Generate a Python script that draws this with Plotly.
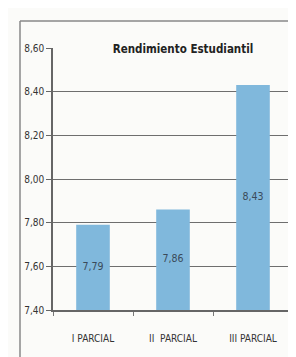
import plotly.graph_objects as go

categories = ["I PARCIAL", "II  PARCIAL", "III PARCIAL"]
values = [7.79, 7.86, 8.43]
value_labels = ["7,79", "7,86", "8,43"]
title_text = "Rendimiento Estudiantil"
axis_min = 7.4
axis_max = 8.6

font_family = "DejaVu Sans Condensed, Liberation Sans Narrow, Roboto Condensed, sans-serif"

fig = go.Figure()
fig.add_trace(go.Bar(
    x=categories, y=values,
    marker=dict(color="#80b8dc", line=dict(width=0)),
    width=0.42, hoverinfo="skip",
))
# value labels centred within visible part of each bar
fig.add_trace(go.Scatter(
    x=categories, y=[(axis_min + v) / 2 for v in values], text=value_labels,
    mode="text", textposition="middle center",
    textfont=dict(family=font_family, size=10.5, color="#3a4a5a"),
))

fig.update_layout(
    width=296, height=357,
    margin=dict(l=45, r=11, t=40, b=55),
    paper_bgcolor="#fbfbf9", plot_bgcolor="#fbfbf9",
    separators=",.",
    showlegend=False,
    font=dict(family=font_family, color="#333333", size=10),
    title=dict(text="<b>" + title_text + "</b>", x=175/296, xref="container", xanchor="center",
               y=1 - 41/357, yanchor="middle",
               font=dict(family=font_family, size=11.5, color="#222222")),
    xaxis=dict(showline=True, linecolor="#666666", linewidth=1.5, ticks="outside",
               tickson="boundaries", ticklen=4, tickcolor="#777777",
               ticklabelstandoff=18,
               tickfont=dict(size=10, color="#333333"), showgrid=False),
    yaxis=dict(range=[axis_min, axis_max], dtick=0.2, tickformat=".2f", showline=True,
               linecolor="#666666", linewidth=1.5, ticks="outside", ticklen=5,
               tickcolor="#666666", gridcolor="#6e6e6e", gridwidth=1.3,
               tickfont=dict(size=10, color="#333333"), zeroline=False),
    shapes=[
        dict(type="line", xref="paper", yref="paper", x0=-33/240, x1=-33/240, y0=1 + 27/262, y1=-0.3,
             line=dict(color="#888888", width=1.5)),
        dict(type="line", xref="paper", yref="paper", x0=-33/240, x1=1.1, y0=1 + 27/262, y1=1 + 27/262,
             line=dict(color="#888888", width=1.5)),
    ],
)
fig.update_traces(cliponaxis=False)

fig.write_html("out.html")
